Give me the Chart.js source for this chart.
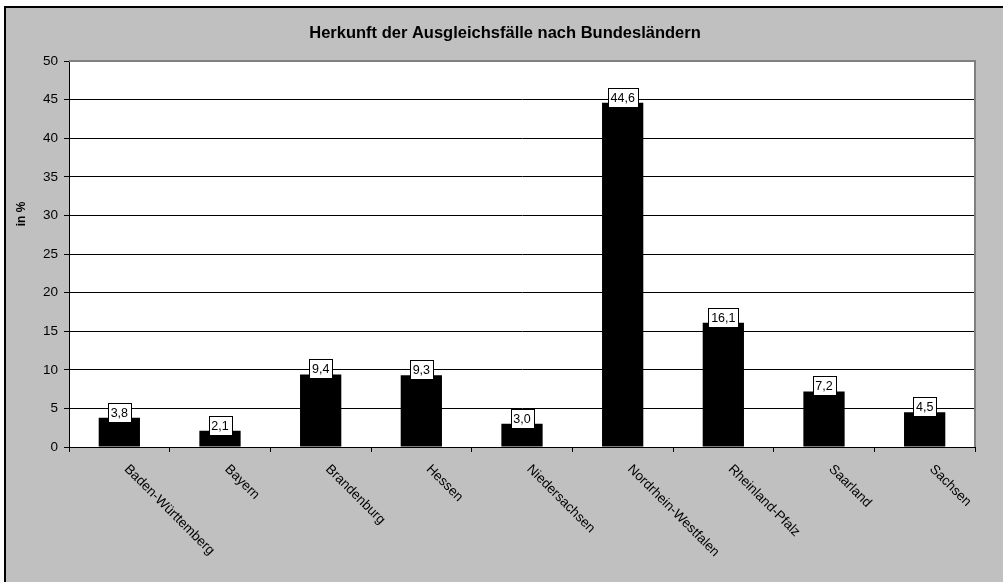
<!DOCTYPE html>
<html>
<head>
<meta charset="utf-8">
<script src="https://cdn.jsdelivr.net/npm/chart.js@4.4.0/dist/chart.umd.min.js"></script>
<style>
  html, body { margin: 0; padding: 0; background: #fff; }
  #frame {
    position: absolute; left: 4px; top: 6px; width: 1010px; height: 590px;
    background: #c0c0c0; border-left: 2px solid #000; border-top: 2px solid #000;
  }
  #wrap { position: absolute; left: 0; top: 0; width: 1003px; height: 582px; }
</style>
</head>
<body>
<div id="frame"></div>
<div id="wrap"><canvas id="chart" width="1003" height="582"></canvas></div>
<script>
// Data
const categories = ['Baden-Württemberg', 'Bayern', 'Brandenburg', 'Hessen', 'Niedersachsen',
  'Nordrhein-Westfalen', 'Rheinland-Pfalz', 'Saarland', 'Sachsen'];
const shares = [3.8, 2.1, 9.4, 9.3, 3.0, 44.6, 16.1, 7.2, 4.5];
const yTicks = [0, 5, 10, 15, 20, 25, 30, 35, 40, 45, 50];
const chartTitle = 'Herkunft der Ausgleichsfälle nach Bundesländern';
const yTitle = 'in %';

const FONT = '"Liberation Sans", Arial, sans-serif';

// white plot area, gray top/right border, title texts
const plotArea = {
  id: 'plotArea',
  beforeDraw(chart) {
    const a = chart.chartArea, c = chart.ctx;
    c.save();
    c.fillStyle = '#fff';
    c.fillRect(a.left, a.top, a.right - a.left, a.bottom - a.top);
    c.restore();
  },
  afterDraw(chart) {
    const a = chart.chartArea, c = chart.ctx;
    c.save();
    c.strokeStyle = '#808080';
    c.lineWidth = 2;
    c.beginPath();
    c.moveTo(a.left, a.top);
    c.lineTo(a.right, a.top);
    c.lineTo(a.right, a.bottom);
    c.stroke();

    c.fillStyle = '#000';
    c.textAlign = 'center';
    c.textBaseline = 'alphabetic';
    c.font = 'bold 16.5px ' + FONT;
    c.fillText(chartTitle, 505, 37.5);

    c.font = 'bold 12px ' + FONT;
    c.textBaseline = 'middle';
    c.translate(22, 214);
    c.rotate(-Math.PI / 2);
    c.fillText(yTitle, 0, 0);
    c.restore();
  }
};

// value boxes above bars
const valueLabels = {
  id: 'valueLabels',
  afterDatasetsDraw(chart) {
    const c = chart.ctx;
    const meta = chart.getDatasetMeta(0);
    c.save();
    c.font = '12.5px ' + FONT;
    c.textAlign = 'center';
    c.textBaseline = 'middle';
    meta.data.forEach((bar, i) => {
      const txt = shares[i].toFixed(1).replace('.', ',');
      const w = Math.round(c.measureText(txt).width) + 6;
      const h = 19;
      const x = Math.round(bar.x - w / 2) + 0.5;
      const y = Math.round(bar.y + 4 - h) + 0.5;
      c.fillStyle = '#fff';
      c.fillRect(x, y, w, h);
      c.strokeStyle = '#000';
      c.lineWidth = 1;
      c.strokeRect(x, y, w, h);
      c.fillStyle = '#000';
      c.fillText(txt, bar.x, y + h / 2 + 0.5);
    });
    c.restore();
  }
};

// rotated category labels (text runs down to the right from each tick)
const rotatedLabels = {
  id: 'rotatedLabels',
  afterDraw(chart) {
    const c = chart.ctx;
    const xs = chart.scales.x;
    c.save();
    c.font = '13.5px ' + FONT;
    c.fillStyle = '#000';
    c.textAlign = 'left';
    c.textBaseline = 'middle';
    categories.forEach((name, i) => {
      const px = xs.getPixelForTick(i);
      c.save();
      c.translate(px + 7, xs.top + 20);
      c.rotate(Math.PI / 4);
      c.fillText(name, 0, 0);
      c.restore();
    });
    c.restore();
  }
};

const ctx = document.getElementById('chart').getContext('2d');
new Chart(ctx, {
  type: 'bar',
  data: {
    labels: categories,
    datasets: [{
      data: shares,
      backgroundColor: '#000',
      borderWidth: 0,
      categoryPercentage: 1,
      barPercentage: 0.41
    }]
  },
  options: {
    responsive: false,
    animation: false,
    layout: { padding: { left: 8, top: 61, right: 28, bottom: 0 } },
    plugins: {
      legend: { display: false },
      tooltip: { enabled: false },
      title: { display: false }
    },
    scales: {
      x: {
        ticks: { display: false },
        grid: { offset: true, drawOnChartArea: false, tickLength: 5, color: '#000' },
        border: { color: '#000', width: 1 },
        afterFit(scale) { scale.height = 135; }
      },
      y: {
        min: 0,
        max: 50,
        afterBuildTicks(scale) { scale.ticks = yTicks.map(v => ({ value: v })); },
        ticks: { color: '#000', padding: 6, font: { family: FONT, size: 13.5 } },
        grid: {
          color: c => (c.tick && c.tick.value === 50 ? '#808080' : '#000'),
          tickLength: 5,
          tickColor: '#000'
        },
        border: { color: '#000', width: 1 },
        title: { display: false },
        afterFit(scale) { scale.width = 61; }
      }
    }
  },
  plugins: [plotArea, valueLabels, rotatedLabels]
});
</script>
</body>
</html>
